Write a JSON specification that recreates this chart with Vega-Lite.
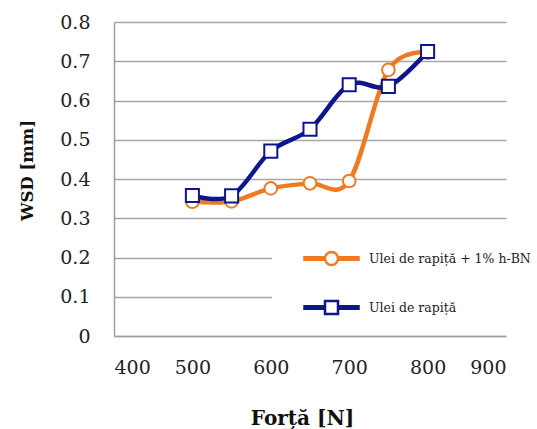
{
  "$schema": "https://vega.github.io/schema/vega-lite/v6.json",
  "width": 392,
  "height": 314,
  "autosize": {"type": "none"},
  "padding": {"left": 114, "top": 22, "right": 31, "bottom": 93},
  "background": "white",
  "config": {
    "font": "DejaVu Serif",
    "view": {"stroke": null},
    "axis": {
      "labelFont": "DejaVu Serif",
      "titleFont": "DejaVu Serif",
      "labelColor": "#222222",
      "titleColor": "#111111",
      "domainColor": "#A0A0A0",
      "domainWidth": 1.5,
      "gridColor": "#A6A6A6",
      "gridWidth": 1.5,
      "ticks": false
    }
  },
  "data": {
    "values": [
      {"serie": "Ulei de rapiță + 1% h-BN", "forta": 500, "wsd": 0.342},
      {"serie": "Ulei de rapiță + 1% h-BN", "forta": 550, "wsd": 0.343},
      {"serie": "Ulei de rapiță + 1% h-BN", "forta": 600, "wsd": 0.376},
      {"serie": "Ulei de rapiță + 1% h-BN", "forta": 650, "wsd": 0.389},
      {"serie": "Ulei de rapiță + 1% h-BN", "forta": 700, "wsd": 0.395},
      {"serie": "Ulei de rapiță + 1% h-BN", "forta": 750, "wsd": 0.678},
      {"serie": "Ulei de rapiță + 1% h-BN", "forta": 800, "wsd": 0.722},
      {"serie": "Ulei de rapiță", "forta": 500, "wsd": 0.358},
      {"serie": "Ulei de rapiță", "forta": 550, "wsd": 0.357},
      {"serie": "Ulei de rapiță", "forta": 600, "wsd": 0.471},
      {"serie": "Ulei de rapiță", "forta": 650, "wsd": 0.527},
      {"serie": "Ulei de rapiță", "forta": 700, "wsd": 0.640},
      {"serie": "Ulei de rapiță", "forta": 750, "wsd": 0.636},
      {"serie": "Ulei de rapiță", "forta": 800, "wsd": 0.725}
    ]
  },
  "encoding": {
    "x": {
      "field": "forta",
      "type": "quantitative",
      "scale": {"domain": [400, 900], "nice": false, "zero": false},
      "axis": {
        "title": "Forță [N]",
        "values": [400, 500, 600, 700, 800, 900],
        "grid": false,
        "labelFontSize": 19,
        "labelPadding": 22,
        "titleFontSize": 20,
        "titleFontWeight": "bold",
        "titlePadding": 31,
        "titleX": 188
      }
    },
    "y": {
      "field": "wsd",
      "type": "quantitative",
      "scale": {"domain": [0, 0.8], "nice": false},
      "axis": {
        "title": "WSD [mm]",
        "values": [0, 0.1, 0.2, 0.3, 0.4, 0.5, 0.6, 0.7, 0.8],
        "format": ".1~f",
        "labelFontSize": 19,
        "labelPadding": 24,
        "titleFontSize": 16.5,
        "titleFontWeight": "bold",
        "titlePadding": 24,
        "titleY": 148
      }
    }
  },
  "layer": [
    {
      "mark": {"type": "line", "interpolate": "cardinal", "strokeWidth": 4.5},
      "encoding": {
        "color": {
          "field": "serie",
          "type": "nominal",
          "sort": ["Ulei de rapiță + 1% h-BN", "Ulei de rapiță"],
          "scale": {"domain": ["Ulei de rapiță + 1% h-BN", "Ulei de rapiță"], "range": ["#F07A22", "#0F168C"]},
          "legend": {
            "title": null,
            "orient": "none",
            "legendX": 158,
            "legendY": 207,
            "padding": 8,
            "fillColor": "white",
            "symbolSize": 1600,
            "rowPadding": 16,
            "labelOffset": 46,
            "labelFontSize": 12.5,
            "labelFont": "DejaVu Serif",
            "labelColor": "#222222",
            "labelLimit": 300,
            "encode": {
              "symbols": {
                "update": {
                  "shape": {"signal": "datum.value === 'Ulei de rapiță' ? 'M0.15,-0.06H1.175V0.06H0.15Z M1.825,-0.06H2.85V0.06H1.825Z M1.175,-0.325H1.825V0.325H1.175Z' : 'M0.15,-0.06H1.175V0.06H0.15Z M1.825,-0.06H2.85V0.06H1.825Z M1.175,0A0.325,0.325 0 1,0 1.825,0A0.325,0.325 0 1,0 1.175,0Z'"},
                  "fill": {"value": "white"},
                  "stroke": {"signal": "datum.value === 'Ulei de rapiță' ? '#0F168C' : '#F07A22'"},
                  "strokeWidth": {"value": 2.5},
                  "opacity": {"value": 1}
                }
              }
            }
          }
        }
      }
    },
    {
      "transform": [{"filter": "datum.serie === 'Ulei de rapiță + 1% h-BN'"}],
      "mark": {"type": "point", "shape": "circle", "filled": true, "fill": "white", "stroke": "#F07A22", "strokeWidth": 2, "size": 160, "opacity": 1}
    },
    {
      "transform": [{"filter": "datum.serie === 'Ulei de rapiță'"}],
      "mark": {"type": "point", "shape": "square", "filled": true, "fill": "white", "stroke": "#0F168C", "strokeWidth": 2, "size": 170, "opacity": 1}
    }
  ]
}
